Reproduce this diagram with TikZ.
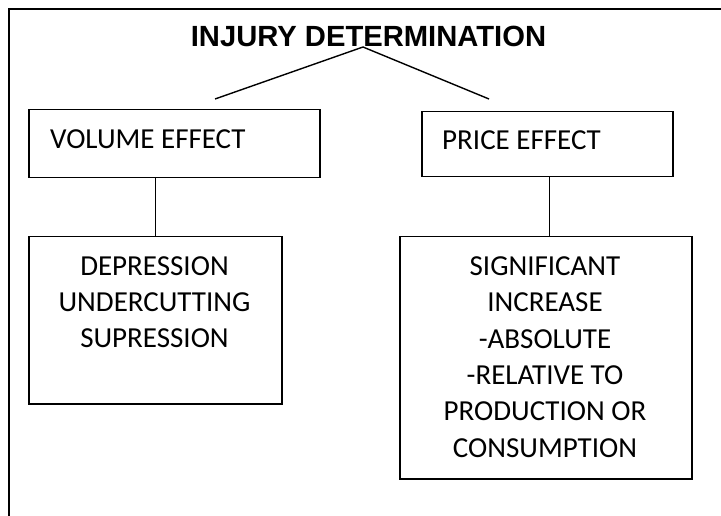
\documentclass[tikz,border=0pt]{standalone}
\usepackage{fontspec}
\setmainfont{Carlito}
\newfontfamily\titlefont{Liberation Sans}
\begin{document}
\begin{tikzpicture}[x=1pt,y=-1pt,
  frame/.style={line width=1.5pt, draw=black},
  box/.style={draw=black, line width=1.5pt, inner sep=0pt, anchor=north west},
  link/.style={line width=1.4pt, draw=black},
  boxtext/.style={inner sep=0pt, font=\fontsize{29}{36.3}\selectfont},
  titletext/.style={inner sep=0pt, font=\titlefont\bfseries\fontsize{29.2}{34}\selectfont}
]
\useasboundingbox (0,0) rectangle (721,516);
% outer frame (open at right and bottom)
\draw[frame] (9,520) -- (9,9) -- (725,9);

% title
\node[titletext, anchor=base] (title) at (368.5,46.7) {INJURY DETERMINATION};
\coordinate (apex) at (363,47);
\coordinate (lfoot) at (215,99);
\coordinate (rfoot) at (489,99);
\draw[link] (lfoot) -- (apex) -- (rfoot);

% effect boxes
\node[box, minimum width=291pt, minimum height=68pt] (vol) at (28,109) {};
\node[box, minimum width=251pt, minimum height=65pt] (price) at (421,111) {};
\node[boxtext, anchor=base west] (voltext) at (50,149) {VOLUME EFFECT};
\node[boxtext, anchor=base west] (pricetext) at (442,150) {PRICE EFFECT};

% detail boxes
\node[box, minimum width=253pt, minimum height=167pt] (lbox) at (28,236) {};
\node[box, minimum width=292pt, minimum height=242pt] (rbox) at (399,236) {};
\node[boxtext, align=center, anchor=north] (ltext) at (154.5,256.3)
  {DEPRESSION\\UNDERCUTTING\\SUPRESSION};
\node[boxtext, align=center, anchor=north] (rtext) at (545,256.6)
  {SIGNIFICANT\\INCREASE\\-ABSOLUTE\\-RELATIVE TO\\PRODUCTION OR\\CONSUMPTION};

% connectors
\draw[link] (lbox.north) -- (lbox.north |- vol.south);
\draw[link] ([xshift=4pt]rbox.north) -- ([xshift=4pt]rbox.north |- price.south);
\end{tikzpicture}
\end{document}
